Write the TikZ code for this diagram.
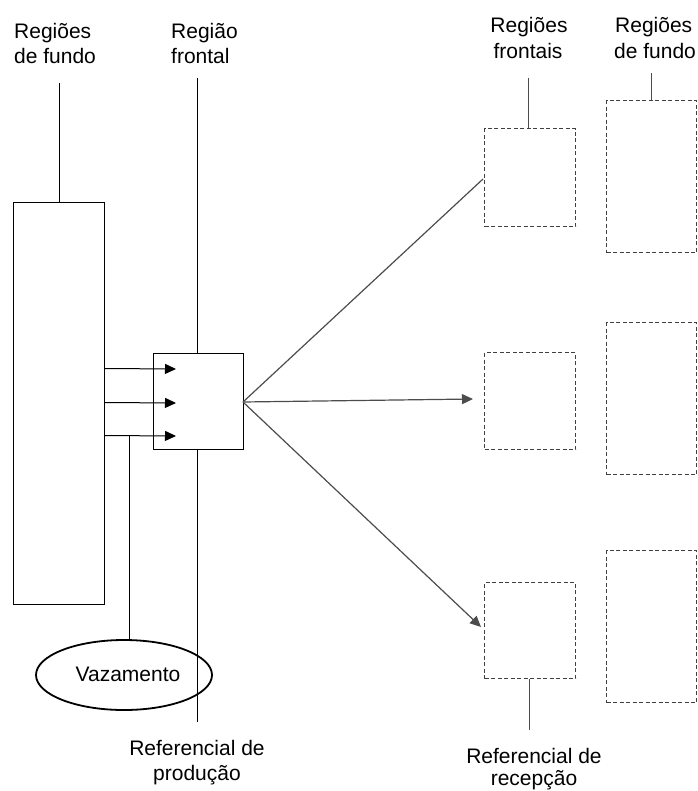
\documentclass[tikz,border=0pt]{standalone}
\usepackage{fontspec}
\setmainfont{Liberation Sans}
\usetikzlibrary{arrows.meta,shapes.geometric}
\begin{document}
\begin{tikzpicture}[x=1pt,y=-1pt,
  lbl/.style={inner sep=0pt,font=\fontsize{21}{26}\selectfont},
  solidbox/.style={draw=black,line width=1.1pt,fill=white},
  dashbox/.style={draw=black!75,line width=1.1pt,dash pattern=on 4pt off 2.5pt},
  conn/.style={draw=black,line width=1pt},
  gconn/.style={draw=black!70,line width=1.2pt},
  arr/.style={-{Triangle[length=11pt,width=10pt]}}
]
\useasboundingbox (0,0) rectangle (697,791);
% labels
\node[lbl,anchor=base west] (l1a) at (14,39) {Regiões};
\node[lbl,anchor=base west] (l1b) at (14,64) {de fundo};
\node[lbl,anchor=base west] (l2a) at (171,39) {Região};
\node[lbl,anchor=base west] (l2b) at (171,64) {frontal};
\node[lbl,anchor=base] (l3a) at (529,33) {Regiões};
\node[lbl,anchor=base] (l3b) at (528,59) {frontais};
\node[lbl,anchor=base west] (l4a) at (615,33) {Regiões};
\node[lbl,anchor=base west] (l4b) at (614,59) {de fundo};
\node[lbl,anchor=base] (l5a) at (197,755) {Referencial de};
\node[lbl,anchor=base] (l5b) at (197,780) {produção};
\node[lbl,anchor=base] (l6a) at (534,763) {Referencial de};
\node[lbl,anchor=base] (l6b) at (534,785) {recepção};
% coordinates
\coordinate (t1) at (59.5,83);
\coordinate (t2) at (197.5,78);
\coordinate (t2b) at (197.5,722);
\coordinate (t3) at (528.5,78);
\coordinate (t4) at (651.5,73);
\coordinate (t6) at (529.5,730);
% production frame line (behind box)
\draw[conn] (t2) -- (t2b);
% tall left box
\node[solidbox,minimum width=91pt,minimum height=402pt,inner sep=0pt,anchor=north west] (bg) at (13,202) {};
\draw[conn] (t1) -- (t1 |- bg.north);
% small front box
\node[solidbox,minimum width=90pt,minimum height=96pt,inner sep=0pt,anchor=north west] (fr) at (153,353) {};
% arrows into front box
\coordinate (a1) at (104,368.5);
\coordinate (a2) at (104,402.5);
\coordinate (a3) at (104,435.5);
\draw[conn,arr] (a1) -- (176,369);
\draw[conn,arr] (a2) -- (176,403);
\draw[conn,arr] (a3) -- (176,436);
% leakage
\node[ellipse,draw=black,line width=1.8pt,minimum width=176pt,minimum height=70pt,inner sep=0pt] (vz) at (124,675) {};
\node[lbl,anchor=base] (vzt) at (128,681) {Vazamento};
\coordinate (lk) at (129.5,436);
\draw[conn] (lk) -- (129.5,639);
% reception boxes
\node[dashbox,minimum width=91pt,minimum height=98pt,inner sep=0pt,anchor=north west] (f1) at (484,128) {};
\node[dashbox,minimum width=91pt,minimum height=97pt,inner sep=0pt,anchor=north west] (f2) at (484,352) {};
\node[dashbox,minimum width=91pt,minimum height=96pt,inner sep=0pt,anchor=north west] (f3) at (484,582) {};
\node[dashbox,minimum width=90pt,minimum height=152pt,inner sep=0pt,anchor=north west] (b1) at (606,100) {};
\node[dashbox,minimum width=90pt,minimum height=152pt,inner sep=0pt,anchor=north west] (b2) at (606,322) {};
\node[dashbox,minimum width=90pt,minimum height=152pt,inner sep=0pt,anchor=north west] (b3) at (606,550) {};
\draw[gconn] (t3) -- (t3 |- f1.north);
\draw[gconn] (t4) -- (t4 |- b1.north);
\draw[gconn] (t6 |- f3.south) -- (t6);
% rays from front box
\coordinate (o) at (243,402);
\coordinate (e1) at (483,179);
\coordinate (e2) at (473,399);
\coordinate (e3) at (481,627);
\draw[gconn] (o) -- (e1);
\draw[gconn,arr] (o) -- (e2);
\draw[gconn,arr] (o) -- (e3);
\end{tikzpicture}
\end{document}
